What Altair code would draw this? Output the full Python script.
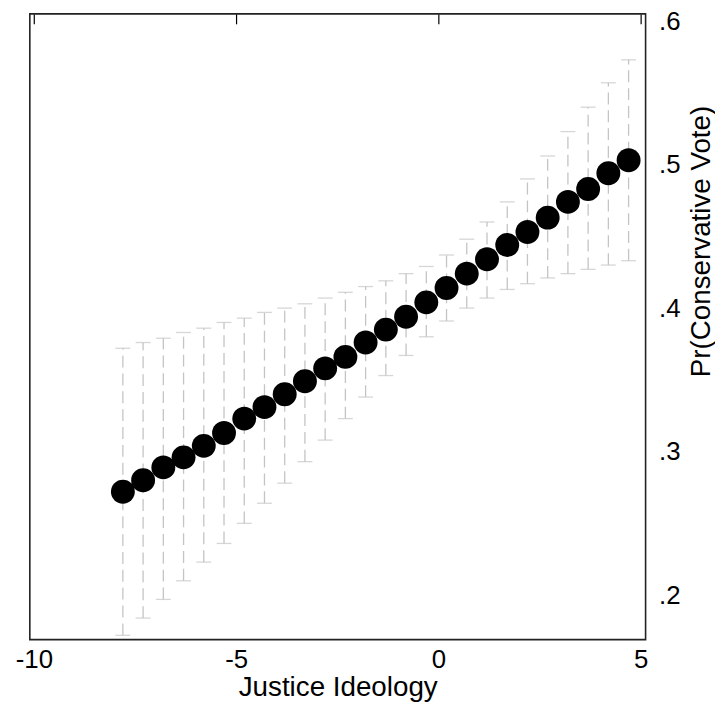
import altair as alt
import pandas as pd

ideology = [-7.8, -7.3, -6.8, -6.3, -5.8, -5.3, -4.8, -4.3, -3.8, -3.3, -2.8, -2.3, -1.8,
            -1.3, -0.8, -0.3, 0.2, 0.7, 1.2, 1.7, 2.2, 2.7, 3.2, 3.7, 4.2, 4.7]
pr = [0.272, 0.280, 0.289, 0.296, 0.304, 0.313, 0.323, 0.331, 0.340, 0.349, 0.358, 0.366, 0.376,
      0.385, 0.394, 0.404, 0.414, 0.424, 0.434, 0.444, 0.453, 0.463, 0.474, 0.483, 0.494, 0.503]
lo = [0.172, 0.184, 0.197, 0.210, 0.223, 0.236, 0.250, 0.264, 0.278, 0.293, 0.308, 0.323, 0.338,
      0.353, 0.367, 0.380, 0.391, 0.400, 0.407, 0.413, 0.417, 0.421, 0.424, 0.427, 0.430, 0.433]
hi = [0.372, 0.376, 0.379, 0.383, 0.386, 0.390, 0.393, 0.397, 0.400, 0.403, 0.407, 0.411, 0.415,
      0.419, 0.424, 0.429, 0.437, 0.448, 0.460, 0.474, 0.490, 0.506, 0.523, 0.540, 0.557, 0.573]

x_ticks = [-10, -5, 0, 5]
y_ticks = [0.2, 0.3, 0.4, 0.5, 0.6]

df = pd.DataFrame({"x": ideology, "pr": pr, "lo": lo, "hi": hi})

FONT = "Liberation Sans"
xscale = alt.Scale(domain=[-10.1, 5.12], nice=False, zero=False)
yscale = alt.Scale(domain=[0.169, 0.605], nice=False, zero=False)

main_x_axis = alt.Axis(values=x_ticks, tickSize=0, domain=False, grid=False,
                       labelExpr="toString(datum.value)",
                       labelFontSize=26, labelFont=FONT, labelColor="black",
                       labelPadding=7, title="Justice Ideology", titleFont=FONT,
                       titleFontSize=28, titleFontWeight="normal", titleColor="black",
                       titleBaseline="alphabetic", titleY=56)
tick_x_axis = alt.Axis(values=x_ticks, tickSize=10, tickColor="black", tickWidth=1.2,
                       domain=False, grid=False, labels=False, title=None, offset=-10)
y_axis = alt.Axis(values=y_ticks, orient="right", tickSize=0, domain=False, grid=False,
                  labelExpr="replace(format(datum.value, '.1f'), '0.', '.')",
                  labelFontSize=26, labelFont=FONT, labelColor="black", labelPadding=13,
                  labelAlign="left", labelBaseline="middle",
                  title="Pr(Conservative Vote)", titleFont=FONT, titleFontSize=28,
                  titleFontWeight="normal", titleColor="black", titleAngle=270,
                  titleX=56, titleY=229, titleAlign="center", titleBaseline="middle")

base = alt.Chart(df)

bars = base.mark_rule(color="#c4c4c4", strokeWidth=1.3, strokeDash=[12, 6]).encode(
    x=alt.X("x:Q", scale=xscale, axis=main_x_axis),
    y=alt.Y("lo:Q", scale=yscale, axis=y_axis),
    y2="hi:Q",
)
cap_lo = base.mark_tick(color="#c4c4c4", thickness=1.3, size=15, orient="horizontal").encode(
    x=alt.X("x:Q", scale=xscale, axis=None),
    y=alt.Y("lo:Q", scale=yscale, axis=None),
)
cap_hi = base.mark_tick(color="#c4c4c4", thickness=1.3, size=15, orient="horizontal").encode(
    x=alt.X("x:Q", scale=xscale, axis=None),
    y=alt.Y("hi:Q", scale=yscale, axis=None),
)
points = base.mark_circle(color="black", opacity=1, size=580).encode(
    x=alt.X("x:Q", scale=xscale, axis=tick_x_axis),
    y=alt.Y("pr:Q", scale=yscale, axis=None),
)

chart = alt.layer(bars, cap_lo, cap_hi, points).resolve_axis(
    x="independent", y="independent"
).properties(
    width=621, height=631,
    autosize=alt.AutoSizeParams(type="none"),
    padding={"left": 22, "top": 3, "right": 70, "bottom": 62},
).configure_view(stroke="#222222", strokeWidth=1.6)

chart.save("out.html", embed_options={"renderer": "svg", "actions": False})
